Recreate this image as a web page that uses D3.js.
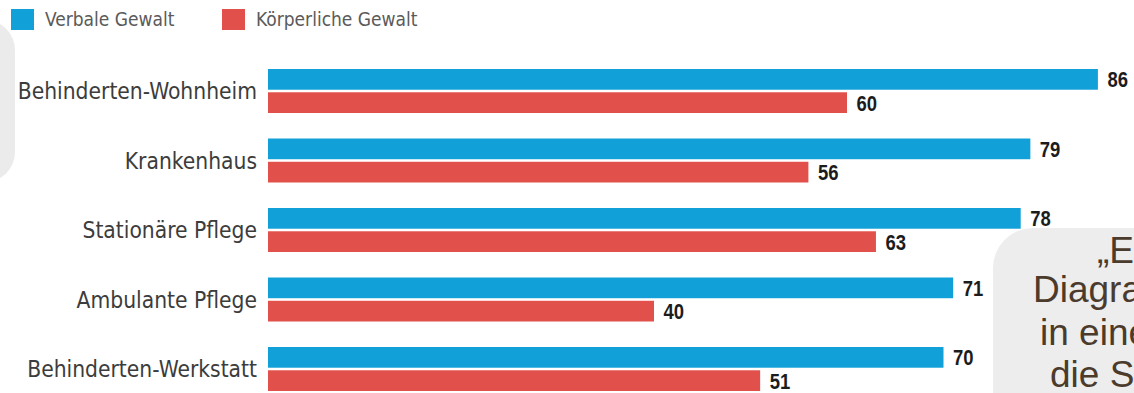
<!DOCTYPE html>
<html>
<head>
<meta charset="utf-8">
<script src="https://cdn.jsdelivr.net/npm/d3@7"></script>
<style>
  html, body { margin: 0; padding: 0; background: #fff; overflow: hidden; }
  svg { display: block; }
  .cat { font-family: "DejaVu Sans Condensed", "DejaVu Sans", sans-serif; font-stretch: condensed; font-size: 22.6px; fill: #3c3c3c; }
  .leg { font-family: "DejaVu Sans Condensed", "DejaVu Sans", sans-serif; font-stretch: condensed; font-size: 19px; fill: #5a5a5a; }
  .val { font-family: "Liberation Sans", Arial, sans-serif; font-weight: bold; font-size: 22px; fill: #1c1c1c; }
  .note { font-family: "Liberation Sans", Arial, sans-serif; font-size: 37px; fill: #4b3b2c; }
</style>
</head>
<body>
<script>
// ---- data ----
const categories = ["Behinderten-Wohnheim", "Krankenhaus", "Stationäre Pflege", "Ambulante Pflege", "Behinderten-Werkstatt"];
const seriesNames = ["Verbale Gewalt", "Körperliche Gewalt"];
const verbaleGewalt = [86, 79, 78, 71, 70];
const koerperlicheGewalt = [60, 56, 63, 40, 51];
const seriesColors = ["#12a0d8", "#e2504b"];
const noteLines = ["„E", "Diagra", "in eine", "die S"];

const W = 1134, H = 393;
const svg = d3.select("body").append("svg").attr("width", W).attr("height", H);

// background overlay box (slide element)
svg.append("rect").attr("x", -60).attr("y", 20).attr("width", 75).attr("height", 162)
  .attr("rx", 30).attr("ry", 30).attr("fill", "#ebebeb");

// scales
const x = d3.scaleLinear().domain([0, 100]).range([268, 1233]);
const y0 = d3.scaleBand().domain(categories).range([69, 391]).paddingInner(0.367).paddingOuter(0);
const y1 = d3.scaleBand().domain(seriesNames).range([0, y0.bandwidth()]).paddingInner(0.11);

const rows = categories.map((c, i) => ({ cat: c, values: [verbaleGewalt[i], koerperlicheGewalt[i]] }));

const g = svg.append("g").selectAll("g").data(rows).join("g")
  .attr("transform", d => `translate(0,${y0(d.cat)})`);

g.selectAll("rect").data(d => d.values.map((v, j) => ({ v, s: seriesNames[j], j })))
  .join("rect")
  .attr("x", x(0))
  .attr("y", d => y1(d.s))
  .attr("width", d => x(d.v) - x(0))
  .attr("height", y1.bandwidth())
  .attr("fill", d => seriesColors[d.j]);

g.selectAll("text.val").data(d => d.values.map((v, j) => ({ v, s: seriesNames[j] })))
  .join("text").attr("class", "val")
  .attr("transform", d => `translate(${x(d.v) + 9.5},${y1(d.s) + y1.bandwidth() / 2}) scale(0.84,1)`)
  .attr("dy", "0.36em")
  .text(d => d.v);

g.append("text").attr("class", "cat")
  .attr("x", 257).attr("y", y0.bandwidth() / 2).attr("dy", "0.36em")
  .attr("text-anchor", "end")
  .text(d => d.cat);

// legend
const legX = [11, 222];
const leg = svg.append("g").selectAll("g").data(seriesNames).join("g")
  .attr("transform", (d, i) => `translate(${legX[i]},9)`);
leg.append("rect").attr("width", 23).attr("height", 21).attr("fill", (d, i) => seriesColors[i]);
leg.append("text").attr("class", "leg").attr("x", 34).attr("y", 10.5).attr("dy", "0.36em").text(d => d);

// bottom-right note box overlay (cut off at the picture edge, as in the reference)
svg.append("rect").attr("x", 993).attr("y", 228).attr("width", 200).attr("height", 220)
  .attr("rx", 40).attr("ry", 40).attr("fill", "#ededed");
const noteX = [1097, 1033, 1040, 1050];
const noteY = [263, 302, 345, 387];
svg.append("g").selectAll("text").data(noteLines).join("text").attr("class", "note")
  .attr("x", (d, i) => noteX[i]).attr("y", (d, i) => noteY[i]).text(d => d);
</script>
</body>
</html>
